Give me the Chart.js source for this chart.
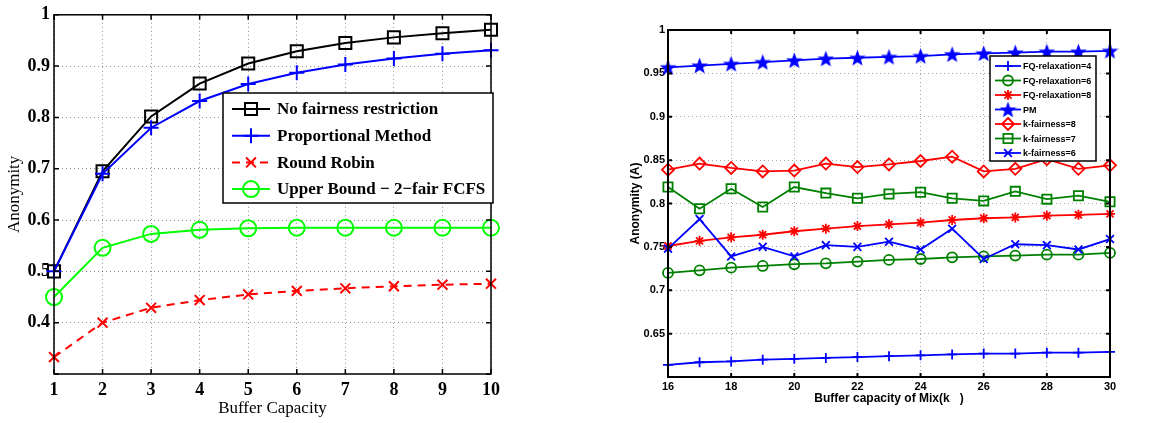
<!DOCTYPE html>
<html>
<head>
<meta charset="utf-8">
<script src="https://cdn.jsdelivr.net/npm/chart.js@4.4.1/dist/chart.umd.min.js"></script>
<style>
html, body { margin: 0; padding: 0; background: #fff; }
#contenedor { position: relative; width: 1154px; height: 423px; }
.panel { position: absolute; top: 0; width: 577px; height: 423px; }
</style>
</head>
<body>
<div id="contenedor">
  <div class="panel" style="left:0"><canvas id="graficaIzq" width="577" height="423"></canvas></div>
  <div class="panel" style="left:577px"><canvas id="graficaDer" width="577" height="423"></canvas></div>
</div>
<script>
// Datos de la gráfica izquierda
const capacidad = [1, 2, 3, 4, 5, 6, 7, 8, 9, 10];
const sinRestriccion = [0.500, 0.695, 0.802, 0.866, 0.905, 0.929, 0.945, 0.956, 0.964, 0.971];
const metodoProporcional = [0.500, 0.690, 0.780, 0.832, 0.865, 0.887, 0.903, 0.915, 0.924, 0.931];
const roundRobin = [0.333, 0.400, 0.429, 0.444, 0.455, 0.462, 0.467, 0.471, 0.474, 0.476];
const cotaSuperior = [0.450, 0.546, 0.573, 0.581, 0.584, 0.585, 0.585, 0.585, 0.585, 0.585];
const etiquetasIzq = ['No fairness restriction', 'Proportional Method', 'Round Robin', 'Upper Bound \u2212 2\u2212fair FCFS'];

// Datos de la gráfica derecha
const capacidadMix = [16, 17, 18, 19, 20, 21, 22, 23, 24, 25, 26, 27, 28, 29, 30];
const fqRelax4 = [0.614, 0.617, 0.618, 0.620, 0.621, 0.622, 0.623, 0.624, 0.625, 0.626, 0.627, 0.627, 0.628, 0.628, 0.629];
const fqRelax6 = [0.720, 0.723, 0.726, 0.728, 0.730, 0.731, 0.733, 0.735, 0.736, 0.738, 0.739, 0.740, 0.741, 0.741, 0.743];
const fqRelax8 = [0.751, 0.757, 0.761, 0.764, 0.768, 0.771, 0.774, 0.776, 0.778, 0.781, 0.783, 0.784, 0.786, 0.787, 0.788];
const metodoPM = [0.957, 0.959, 0.961, 0.963, 0.965, 0.967, 0.968, 0.969, 0.970, 0.972, 0.973, 0.974, 0.975, 0.975, 0.976];
const kFairness8 = [0.839, 0.846, 0.841, 0.837, 0.838, 0.846, 0.842, 0.845, 0.849, 0.854, 0.837, 0.840, 0.851, 0.840, 0.844];
const kFairness7 = [0.819, 0.794, 0.817, 0.796, 0.819, 0.812, 0.806, 0.811, 0.813, 0.806, 0.803, 0.814, 0.805, 0.809, 0.802];
const kFairness6 = [0.748, 0.782, 0.739, 0.750, 0.739, 0.752, 0.750, 0.756, 0.747, 0.771, 0.736, 0.753, 0.752, 0.747, 0.759];
const etiquetasDer = ['FQ-relaxation=4', 'FQ-relaxation=6', 'FQ-relaxation=8', 'PM', 'k-fairness=8', 'k-fairness=7', 'k-fairness=6'];

// Estrella rellena (pentagrama) para la serie PM
function crearEstrella(color, r) {
    const lado = Math.ceil(r * 2 + 3);
    const c = document.createElement('canvas');
    c.width = lado; c.height = lado;
    const g = c.getContext('2d');
    g.translate(lado / 2, lado / 2 + 0.8);
    g.beginPath();
    for (let i = 0; i < 10; i++) {
        const ang = -Math.PI / 2 + i * Math.PI / 5;
        const rad = i % 2 ? r * 0.42 : r;
        g.lineTo(Math.cos(ang) * rad, Math.sin(ang) * rad);
    }
    g.closePath();
    g.fillStyle = color;
    g.strokeStyle = color;
    g.lineWidth = 1.2;
    g.fill();
    g.stroke();
    return c;
}
const estrellaAzul = crearEstrella('#0000ff', 7);

// Marcadores para la leyenda
function dibujarMarcador(ctx, estilo, x, y, r, color, grosor) {
    ctx.save();
    ctx.strokeStyle = color;
    ctx.lineWidth = grosor;
    ctx.setLineDash([]);
    if (estilo instanceof HTMLCanvasElement) {
        ctx.drawImage(estilo, x - estilo.width / 2, y - estilo.height / 2);
        ctx.restore();
        return;
    }
    ctx.beginPath();
    const d = r * Math.SQRT1_2;
    if (estilo === 'rect') {
        ctx.rect(x - d, y - d, 2 * d, 2 * d);
    } else if (estilo === 'circle') {
        ctx.arc(x, y, r, 0, Math.PI * 2);
    } else if (estilo === 'rectRot') {
        ctx.moveTo(x, y - r); ctx.lineTo(x + r, y); ctx.lineTo(x, y + r); ctx.lineTo(x - r, y); ctx.closePath();
    } else {
        if (estilo === 'cross' || estilo === 'star') {
            ctx.moveTo(x - r, y); ctx.lineTo(x + r, y); ctx.moveTo(x, y - r); ctx.lineTo(x, y + r);
        }
        if (estilo === 'crossRot' || estilo === 'star') {
            ctx.moveTo(x - d, y - d); ctx.lineTo(x + d, y + d); ctx.moveTo(x - d, y + d); ctx.lineTo(x + d, y - d);
        }
    }
    ctx.stroke();
    ctx.restore();
}

// Plugin: marco, marcas interiores y leyenda en recuadro
const pluginMarco = {
    id: 'marco',
    afterDraw(chart, args, opts) {
        const ctx = chart.ctx;
        const a = chart.chartArea;
        const sx = chart.scales.x, sy = chart.scales.y;
        ctx.save();
        ctx.strokeStyle = '#000';
        ctx.lineWidth = opts.grosorMarco;
        ctx.setLineDash([]);
        ctx.beginPath();
        sx.ticks.forEach(t => {
            const px = sx.getPixelForValue(t.value);
            ctx.moveTo(px, a.bottom); ctx.lineTo(px, a.bottom - opts.marca);
            ctx.moveTo(px, a.top); ctx.lineTo(px, a.top + opts.marca);
        });
        sy.ticks.forEach(t => {
            const py = sy.getPixelForValue(t.value);
            ctx.moveTo(a.left, py); ctx.lineTo(a.left + opts.marca, py);
            ctx.moveTo(a.right, py); ctx.lineTo(a.right - opts.marca, py);
        });
        ctx.stroke();
        ctx.strokeRect(a.left, a.top, a.right - a.left, a.bottom - a.top);

        // leyenda
        const L = opts.leyenda;
        ctx.fillStyle = '#fff';
        ctx.fillRect(L.x, L.y, L.ancho, L.alto);
        ctx.lineWidth = 1.5;
        ctx.strokeRect(L.x, L.y, L.ancho, L.alto);
        ctx.font = L.fuente;
        ctx.textBaseline = 'middle';
        chart.data.datasets.forEach((ds, i) => {
            const fy = L.y + L.primera + i * L.paso;
            ctx.strokeStyle = ds.borderColor;
            ctx.lineWidth = ds.borderWidth;
            ctx.setLineDash(ds.borderDash || []);
            ctx.beginPath();
            ctx.moveTo(L.x + L.linea0, fy);
            ctx.lineTo(L.x + L.linea1, fy);
            ctx.stroke();
            dibujarMarcador(ctx, ds.pointStyle, L.x + (L.linea0 + L.linea1) / 2, fy, ds.pointRadius, ds.borderColor, ds.pointBorderWidth);
            ctx.fillStyle = '#000';
            ctx.fillText(ds.label, L.x + L.texto, fy + 1);
        });
        ctx.restore();
    }
};

function serie(etiqueta, xs, ys, color, estilo, radio, grosor, orden, guiones) {
    return {
        label: etiqueta,
        data: xs.map((x, i) => ({ x: x, y: ys[i] })),
        borderColor: color,
        backgroundColor: color,
        borderWidth: grosor,
        borderDash: guiones || [],
        pointStyle: estilo,
        pointRadius: radio,
        pointHoverRadius: radio,
        pointBorderWidth: grosor,
        pointBorderColor: color,
        pointBackgroundColor: 'rgba(0,0,0,0)',
        tension: 0,
        clip: false,
        order: orden
    };
}

function formatoEje(minimo) {
    return function (v) {
        if (Math.abs(v - minimo) < 1e-9) return '';
        return String(Number(v.toFixed(2)));
    };
}

// Gráfica izquierda
new Chart(document.getElementById('graficaIzq').getContext('2d'), {
    type: 'line',
    data: {
        datasets: [
            serie(etiquetasIzq[0], capacidad, sinRestriccion, '#000000', 'rect', 8.5, 2, 4),
            serie(etiquetasIzq[1], capacidad, metodoProporcional, '#0000ff', 'cross', 7.5, 2, 3),
            serie(etiquetasIzq[2], capacidad, roundRobin, '#ff0000', 'crossRot', 7, 2, 2, [8, 6]),
            serie(etiquetasIzq[3], capacidad, cotaSuperior, '#00ff00', 'circle', 8, 2, 1)
        ]
    },
    options: {
        responsive: false,
        animation: false,
        layout: { padding: { left: 0, right: 86, top: 11, bottom: 0 } },
        plugins: {
            legend: { display: false },
            tooltip: { enabled: false },
            marco: {
                grosorMarco: 1.5,
                marca: 5,
                leyenda: {
                    x: 223, y: 93, ancho: 270, alto: 110,
                    primera: 16, paso: 26.7,
                    linea0: 9, linea1: 47, texto: 54,
                    fuente: 'bold 17px "Liberation Serif", "Times New Roman", serif'
                }
            }
        },
        scales: {
            x: {
                type: 'linear', min: 1, max: 10,
                ticks: { stepSize: 1, padding: 6, color: '#000', font: { family: '"Liberation Serif", serif', size: 18, weight: 'bold' } },
                grid: { color: 'rgba(0,0,0,0.45)', drawTicks: false, lineWidth: 1 },
                border: { display: false, dash: [1, 3] },
                title: { display: true, text: 'Buffer Capacity', color: '#000', padding: { top: 0, bottom: 4 }, font: { family: '"Liberation Serif", serif', size: 17 } },
                afterFit: (s) => { s.height = 49; }
            },
            y: {
                type: 'linear', min: 0.3, max: 1,
                ticks: { stepSize: 0.1, padding: 4, color: '#000', callback: formatoEje(0.3), font: { family: '"Liberation Serif", serif', size: 18, weight: 'bold' } },
                grid: { color: 'rgba(0,0,0,0.45)', drawTicks: false, lineWidth: 1 },
                border: { display: false, dash: [1, 3] },
                title: { display: true, text: 'Anonymity', color: '#000', padding: { top: 4, bottom: 0 }, font: { family: '"Liberation Serif", serif', size: 17 } },
                afterFit: (s) => { s.width = 54; }
            }
        }
    },
    plugins: [pluginMarco]
});

// Gráfica derecha
new Chart(document.getElementById('graficaDer').getContext('2d'), {
    type: 'line',
    data: {
        datasets: [
            serie(etiquetasDer[0], capacidadMix, fqRelax4, '#0000ff', 'cross', 5, 1.8, 7),
            serie(etiquetasDer[1], capacidadMix, fqRelax6, '#008000', 'circle', 5, 1.8, 6),
            serie(etiquetasDer[2], capacidadMix, fqRelax8, '#ff0000', 'star', 5, 1.8, 5),
            serie(etiquetasDer[3], capacidadMix, metodoPM, '#0000ff', estrellaAzul, 7, 1.8, 4),
            serie(etiquetasDer[4], capacidadMix, kFairness8, '#ff0000', 'rectRot', 6, 1.8, 3),
            serie(etiquetasDer[5], capacidadMix, kFairness7, '#008000', 'rect', 6.5, 1.8, 2),
            serie(etiquetasDer[6], capacidadMix, kFairness6, '#0000ff', 'crossRot', 5.5, 1.8, 1)
        ]
    },
    options: {
        responsive: false,
        animation: false,
        layout: { padding: { left: 0, right: 44, top: 30, bottom: 0 } },
        plugins: {
            legend: { display: false },
            tooltip: { enabled: false },
            marco: {
                grosorMarco: 2,
                marca: 4,
                leyenda: {
                    x: 413, y: 56, ancho: 106, alto: 105,
                    primera: 10, paso: 14.5,
                    linea0: 5, linea1: 31, texto: 33,
                    fuente: 'bold 9px "Liberation Sans", Arial, sans-serif'
                }
            }
        },
        scales: {
            x: {
                type: 'linear', min: 16, max: 30,
                ticks: { stepSize: 2, padding: 3, color: '#000', font: { family: '"Liberation Sans", sans-serif', size: 11, weight: 'bold' } },
                grid: { color: 'rgba(0,0,0,0.35)', drawTicks: false, lineWidth: 1 },
                border: { display: false, dash: [1, 3] },
                title: { display: true, text: 'Buffer capacity of Mix(k   )', color: '#000', padding: { top: 0, bottom: 17 }, font: { family: '"Liberation Sans", sans-serif', size: 12, weight: 'bold' } },
                afterFit: (s) => { s.height = 46; }
            },
            y: {
                type: 'linear', min: 0.6, max: 1,
                ticks: { stepSize: 0.05, padding: 3, color: '#000', callback: formatoEje(0.6), font: { family: '"Liberation Sans", sans-serif', size: 11, weight: 'bold' } },
                grid: { color: 'rgba(0,0,0,0.35)', drawTicks: false, lineWidth: 1 },
                border: { display: false, dash: [1, 3] },
                title: { display: true, text: 'Anonymity (A)', color: '#000', padding: { top: 51, bottom: 0 }, font: { family: '"Liberation Sans", sans-serif', size: 12, weight: 'bold' } },
                afterFit: (s) => { s.width = 91; }
            }
        }
    },
    plugins: [pluginMarco]
});
</script>
</body>
</html>
